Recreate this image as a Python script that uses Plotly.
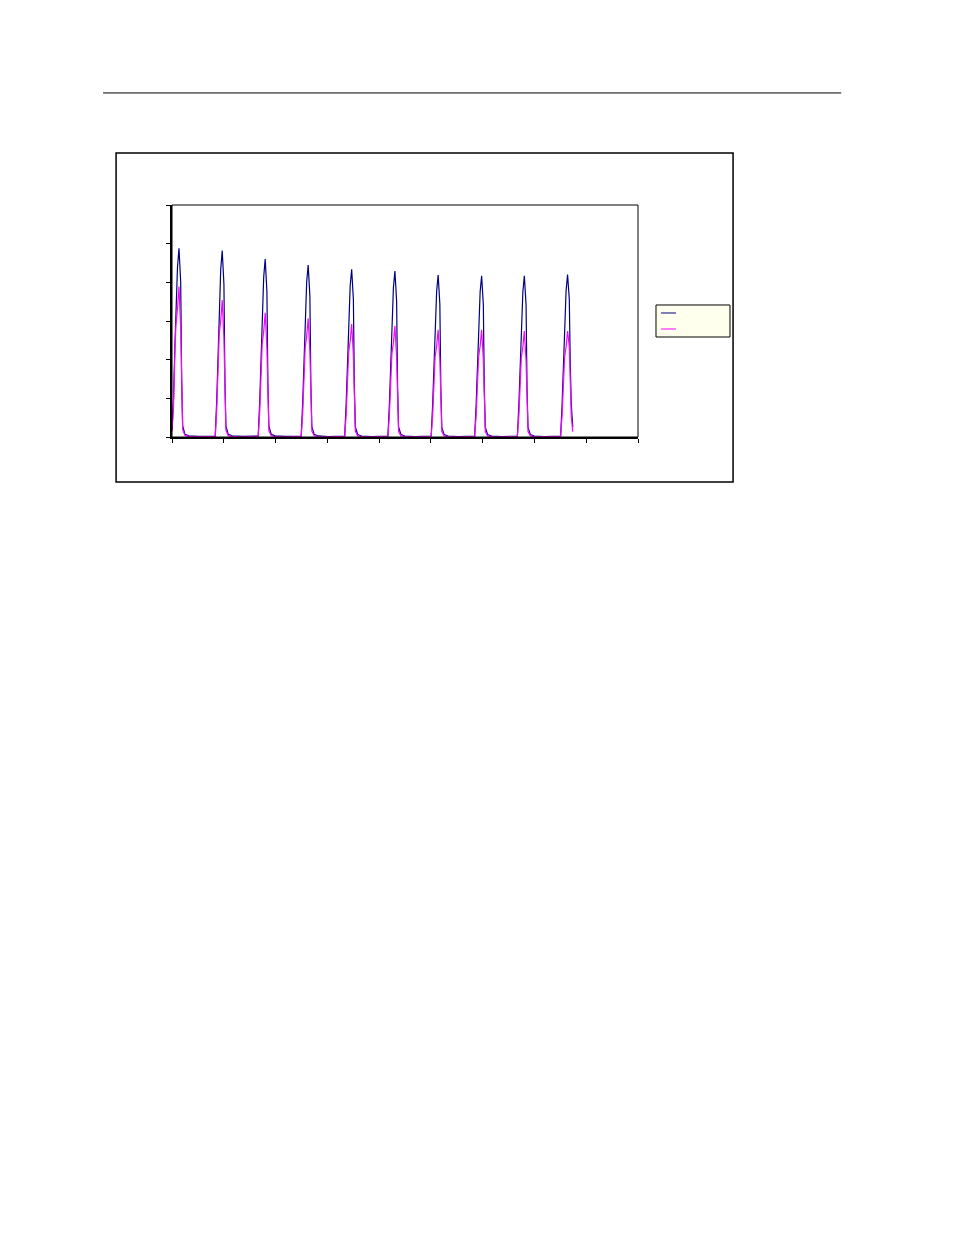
import plotly.graph_objects as go

# time axis, one row per pulse (shared by both series)
t = [
    0.0, 0.29, 0.58, 0.77, 1.06, 1.35, 1.68, 1.87, 2.06, 2.51, 3.28, 5.21,
    8.35, 8.64, 8.93, 9.12, 9.41, 9.7, 10.03, 10.22, 10.41, 10.86, 11.63, 13.56,
    16.65, 16.94, 17.23, 17.42, 17.71, 18.0, 18.33, 18.52, 18.71, 19.16, 19.93, 21.86,
    24.95, 25.24, 25.53, 25.72, 26.01, 26.3, 26.63, 26.82, 27.01, 27.46, 28.23, 30.16,
    33.35, 33.64, 33.93, 34.12, 34.41, 34.7, 35.03, 35.22, 35.41, 35.86, 36.63, 38.56,
    41.7, 41.99, 42.28, 42.47, 42.76, 43.05, 43.38, 43.57, 43.76, 44.21, 44.98, 46.91,
    50.05, 50.34, 50.63, 50.82, 51.11, 51.4, 51.73, 51.92, 52.11, 52.56, 53.33, 55.26,
    58.45, 58.74, 59.03, 59.22, 59.51, 59.8, 60.13, 60.32, 60.51, 60.96, 61.73, 63.66,
    66.7, 66.99, 67.28, 67.47, 67.76, 68.05, 68.38, 68.57, 68.76, 69.21, 69.98, 71.91,
    75.05, 75.34, 75.63, 75.82, 76.11, 76.4, 76.73, 76.92, 77.11, 77.4,
]

series_a = [
    1.8, 9.8, 24.4, 35.1, 43.9, 48.8, 40.0, 14.6, 2.9, 0.7, 0.3, 0.15,
    0.24, 9.6, 24.1, 34.7, 43.4, 48.2, 39.5, 14.5, 2.9, 0.7, 0.3, 0.14,
    0.23, 9.2, 23.0, 33.1, 41.4, 46.0, 37.7, 13.8, 2.8, 0.7, 0.28, 0.14,
    0.22, 8.9, 22.3, 32.0, 40.1, 44.5, 36.5, 13.4, 2.7, 0.67, 0.27, 0.13,
    0.22, 8.7, 21.7, 31.2, 39.1, 43.4, 35.6, 13.0, 2.6, 0.65, 0.26, 0.13,
    0.21, 8.6, 21.5, 30.9, 38.6, 42.9, 35.2, 12.9, 2.6, 0.64, 0.26, 0.13,
    0.21, 8.4, 21.0, 30.2, 37.7, 41.9, 34.4, 12.6, 2.5, 0.63, 0.25, 0.13,
    0.21, 8.3, 20.9, 30.0, 37.5, 41.7, 34.2, 12.5, 2.5, 0.63, 0.25, 0.13,
    0.21, 8.3, 20.9, 30.0, 37.5, 41.7, 34.2, 12.5, 2.5, 0.63, 0.25, 0.13,
    0.21, 8.4, 21.0, 30.2, 37.8, 42.0, 35.7, 18.9, 8.4, 2.5,
]

series_b = [
    1.5, 7.8, 23.3, 29.2, 33.1, 38.9, 28.0, 9.7, 1.9, 0.4, 0.16, 0.08,
    0.18, 7.1, 21.2, 26.6, 30.1, 35.4, 25.5, 8.9, 1.8, 0.35, 0.14, 0.07,
    0.16, 6.4, 19.3, 24.1, 27.3, 32.1, 23.1, 8.0, 1.6, 0.32, 0.13, 0.06,
    0.15, 6.1, 18.4, 23.0, 26.1, 30.7, 22.1, 7.7, 1.5, 0.31, 0.12, 0.06,
    0.15, 5.8, 17.5, 21.9, 24.8, 29.2, 21.0, 7.3, 1.5, 0.29, 0.12, 0.06,
    0.14, 5.7, 17.2, 21.5, 24.4, 28.7, 20.7, 7.2, 1.4, 0.29, 0.11, 0.06,
    0.14, 5.5, 16.6, 20.8, 23.5, 27.7, 19.9, 6.9, 1.4, 0.28, 0.11, 0.06,
    0.14, 5.5, 16.6, 20.8, 23.5, 27.7, 19.9, 6.9, 1.4, 0.28, 0.11, 0.06,
    0.14, 5.5, 16.4, 20.6, 23.3, 27.4, 19.7, 6.9, 1.4, 0.27, 0.11, 0.05,
    0.14, 5.5, 16.4, 20.6, 23.3, 27.4, 23.3, 13.7, 5.5, 1.4,
]

fig = go.Figure()
fig.add_trace(go.Scatter(x=t, y=series_a, mode="lines",
                         line=dict(color="#000080", width=1.2), showlegend=False))
fig.add_trace(go.Scatter(x=t, y=series_b, mode="lines",
                         line=dict(color="#FF00FF", width=1.2), showlegend=False))

axis_style = dict(showgrid=False, zeroline=False, showticklabels=False,
                  showline=True, linecolor="black", linewidth=2,
                  ticks="outside", ticklen=4, tickcolor="black", tickwidth=1)

# page body adds an 8px offset, so the figure is sized and placed to suit
fig.update_layout(
    width=946, height=1227,
    margin=dict(l=164, r=316, t=197, b=798),
    paper_bgcolor="white", plot_bgcolor="white",
    xaxis=dict(range=[0, 90], dtick=10, **axis_style),
    yaxis=dict(range=[0, 60], dtick=10, **axis_style),
    shapes=[
        # rule across the top of the page
        dict(type="line", xref="paper", yref="paper", x0=-0.148, x1=1.436,
             y0=1.483, y1=1.483, line=dict(color="black", width=1)),
        # chart frame
        dict(type="rect", xref="paper", yref="paper", x0=-0.120, x1=1.204,
             y0=-0.194, y1=1.224, line=dict(color="black", width=1.5)),
        # thin border on top/right of plot area
        dict(type="rect", xref="paper", yref="paper", x0=0, x1=1, y0=0, y1=1,
             line=dict(color="black", width=1)),
        # legend box
        dict(type="rect", xref="paper", yref="paper", x0=1.0386, x1=1.1974,
             y0=0.431, y1=0.569, fillcolor="#FFFFEE",
             line=dict(color="black", width=1)),
        dict(type="line", xref="paper", yref="paper", x0=1.0494, x1=1.0815,
             y0=0.5345, y1=0.5345, line=dict(color="#000080", width=1)),
        dict(type="line", xref="paper", yref="paper", x0=1.0494, x1=1.0815,
             y0=0.4655, y1=0.4655, line=dict(color="#FF00FF", width=1)),
    ],
)

fig.write_html("out.html")
